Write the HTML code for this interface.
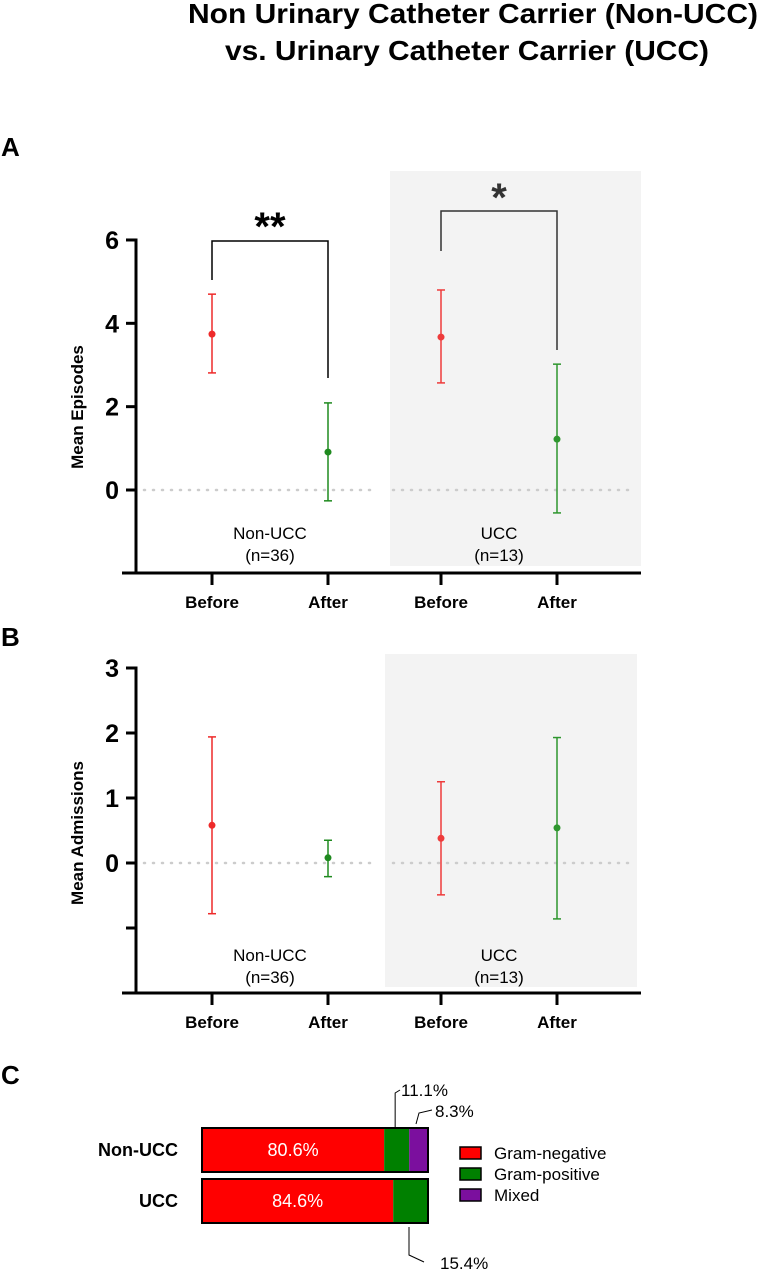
<!DOCTYPE html>
<html><head><meta charset="utf-8"><style>
body{margin:0;background:#fff;width:761px;height:1270px;overflow:hidden;font-family:"Liberation Sans",Arial,sans-serif}
</style></head><body>
<svg width="761" height="1270" xmlns="http://www.w3.org/2000/svg" font-family="Liberation Sans, Arial, sans-serif">
<text x="188" y="23" font-size="28" font-weight="bold" textLength="570" lengthAdjust="spacingAndGlyphs">Non Urinary Catheter Carrier (Non-UCC)</text>
<text x="225" y="60" font-size="28" font-weight="bold" textLength="484" lengthAdjust="spacingAndGlyphs">vs. Urinary Catheter Carrier (UCC)</text>
<text x="1" y="156" font-size="26" font-weight="bold">A</text>
<text x="1" y="646" font-size="26" font-weight="bold">B</text>
<text x="1" y="1084" font-size="26" font-weight="bold">C</text>
<g id="chartA"></g>
<g id="chartB"></g>
<g id="chartC"></g>
</svg>
<script>
const groupLabels=["Before","After","Before","After"];
const epMean=[3.74,0.91,3.67,1.22];
const epLow=[2.81,-0.26,2.57,-0.55];
const epHigh=[4.7,2.09,4.8,3.02];
const epTicks=[0,2,4,6];
const admMean=[0.58,0.08,0.38,0.54];
const admLow=[-0.78,-0.21,-0.49,-0.86];
const admHigh=[1.94,0.35,1.25,1.93];
const admTicks=[0,1,2,3];
const barCats=["Non-UCC","UCC"];
const gramNeg=[80.6,84.6];
const gramPos=[11.1,15.4];
const mixed=[8.3,0];
const NS="http://www.w3.org/2000/svg";
function mk(p,t,a,txt){const e=document.createElementNS(NS,t);for(const k in a)e.setAttribute(k,a[k]);if(txt!==undefined)e.textContent=txt;p.appendChild(e);return e;}
const xPos=i=>[212,328,441,557][i];
const colors=["#ee2a2a","#1f8a1f","#ee3b3b","#2e962e"];
function panel(g,cfg){
  const y=v=>cfg.y0-v*cfg.ppu;
  let r=mk(g,'rect',{x:cfg.boxX,y:cfg.boxY,width:cfg.boxW,height:cfg.boxH,fill:'#f3f3f3'});
  
  let l=mk(g,'line',{x1:144,x2:375,y1:y(0),y2:y(0),stroke:'#ccc','stroke-width':2.5,'stroke-dasharray':'1 8','stroke-linecap':'round'});
  
  l=mk(g,'line',{x1:393,x2:632,y1:y(0),y2:y(0),stroke:'#ccc','stroke-width':2.5,'stroke-dasharray':'1 8','stroke-linecap':'round'});
  
  l=mk(g,'line',{x1:136,x2:136,y1:cfg.yTop-1.5,y2:cfg.axisY+1.5,stroke:'#000','stroke-width':3});
  
  l=mk(g,'line',{x1:122,x2:641,y1:cfg.axisY,y2:cfg.axisY,stroke:'#000','stroke-width':3});
  
  cfg.ticks.forEach(t=>{
    let tl=mk(g,'line',{x1:126,x2:136,y1:y(t),y2:y(t),stroke:'#000','stroke-width':3});
    
    let tx=mk(g,'text',{x:119,y:y(t)+9,'text-anchor':'end','font-size':25,'font-weight':'bold'},String(t));
    
  });
  if(cfg.minorTick!==undefined){let tl=mk(g,'line',{x1:126,x2:136,y1:y(cfg.minorTick),y2:y(cfg.minorTick),stroke:'#000','stroke-width':3});}
  let yt=mk(g,'text',{x:0,y:0,transform:`translate(83,${cfg.titleY}) rotate(-90)`,'text-anchor':'middle','font-size':17,'font-weight':'bold'},cfg.title);
  
  groupLabels.forEach((lab,i)=>{
    let tl=mk(g,'line',{x1:xPos(i),x2:xPos(i),y1:cfg.axisY,y2:cfg.axisY+12,stroke:'#000','stroke-width':3});
    
    let tx=mk(g,'text',{x:xPos(i),y:cfg.axisY+35,'text-anchor':'middle','font-size':17,'font-weight':'bold'},lab);
    
    const c=colors[i],x=xPos(i);
    let eb=mk(g,'line',{x1:x,x2:x,y1:y(cfg.hi[i]),y2:y(cfg.lo[i]),stroke:c,'stroke-width':1.5});
    
    [cfg.hi[i],cfg.lo[i]].forEach(v=>{let cap=mk(g,'line',{x1:x-4,x2:x+4,y1:y(v),y2:y(v),stroke:c,'stroke-width':1.5});});
    let pt=mk(g,'circle',{cx:x,cy:y(cfg.mean[i]),r:3.5,fill:c});
    
  });
  [[270,'Non-UCC'],[499,'UCC']].forEach(([x,t])=>{
    let a=mk(g,'text',{x:x,y:cfg.labY,'text-anchor':'middle','font-size':17},t);
    
    let b=mk(g,'text',{x:x,y:cfg.labY+22,'text-anchor':'middle','font-size':17},t==='UCC'?'(n=13)':'(n=36)');
    
  });
}
const gA=document.getElementById('chartA'),gB=document.getElementById('chartB');
panel(gA,{y0:490,ppu:41.67,ticks:epTicks,yTop:240,axisY:573,boxX:390,boxY:171,boxW:251,boxH:395,mean:epMean,lo:epLow,hi:epHigh,title:'Mean Episodes',titleY:407,labY:539});
panel(gB,{y0:863,ppu:65,ticks:admTicks,minorTick:-1,yTop:668,axisY:993,boxX:385,boxY:654,boxW:252,boxH:333,mean:admMean,lo:admLow,hi:admHigh,title:'Mean Admissions',titleY:833,labY:961});
function bracket(x1,x2,yb,l1,l2,star,sy,col){
  let p=mk(gA,'path',{d:`M${x1} ${l1}V${yb}H${x2}V${l2}`,fill:'none',stroke:col,'stroke-width':1.5});
  
  let t=mk(gA,'text',{x:(x1+x2)/2,y:sy,'text-anchor':'middle','font-size':40,'font-weight':'bold',fill:col},star);
  
}
bracket(212,328,241,280,378,'**',240,'#000');
bracket(441,557,211,251,350,'*',211,'#333');
const gC=document.getElementById('chartC');
const bx0=202,bw=226,xs=v=>bx0+v/100*bw;
const barY=[1128,1179],bh=44;
barCats.forEach((c,i)=>{
  let lab=mk(gC,'text',{x:178,y:barY[i]+bh/2+6,'text-anchor':'end','font-size':18,'font-weight':'bold'},c);
  
  let s=0;
  [[gramNeg[i],'#ff0000','bar-gram-negative'],[gramPos[i],'#008000','bar-gram-positive'],[mixed[i],'#7b0f9e','bar-mixed']].forEach(([v,col,n])=>{
    if(v<=0)return;
    let r=mk(gC,'rect',{x:xs(s),y:barY[i],width:xs(s+v)-xs(s),height:bh,fill:col});
    
    s+=v;
  });
  let o=mk(gC,'rect',{x:bx0,y:barY[i],width:bw,height:bh,fill:'none',stroke:'#000','stroke-width':2});
  
  let t=mk(gC,'text',{x:xs(gramNeg[i]/2),y:barY[i]+bh/2+6,'text-anchor':'middle','font-size':18,fill:'#fff'},gramNeg[i].toFixed(1)+'%');
  
});
let p=mk(gC,'path',{d:`M${xs(gramNeg[0])+11} ${barY[0]}V1093L400 1090`,fill:'none',stroke:'#000','stroke-width':1});

let t=mk(gC,'text',{x:401,y:1096,'font-size':17},gramPos[0].toFixed(1)+'%');
p=mk(gC,'path',{d:`M416 1124L419 1113L432 1110`,fill:'none',stroke:'#000','stroke-width':1});

t=mk(gC,'text',{x:435,y:1117,'font-size':17},mixed[0].toFixed(1)+'%');
p=mk(gC,'path',{d:`M409 1227V1255L424 1262`,fill:'none',stroke:'#000','stroke-width':1});

t=mk(gC,'text',{x:440,y:1269,'font-size':17},gramPos[1].toFixed(1)+'%');
[['Gram-negative','#ff0000'],['Gram-positive','#008000'],['Mixed','#7b0f9e']].forEach(([n,c],i)=>{
  const yc=1153+i*21;
  let r=mk(gC,'rect',{x:460,y:yc-6,width:21,height:12,fill:c,stroke:'#000','stroke-width':1.5});
  
  let tx=mk(gC,'text',{x:494,y:yc+6,'font-size':17},n);
  
});
</script>
</body></html>
